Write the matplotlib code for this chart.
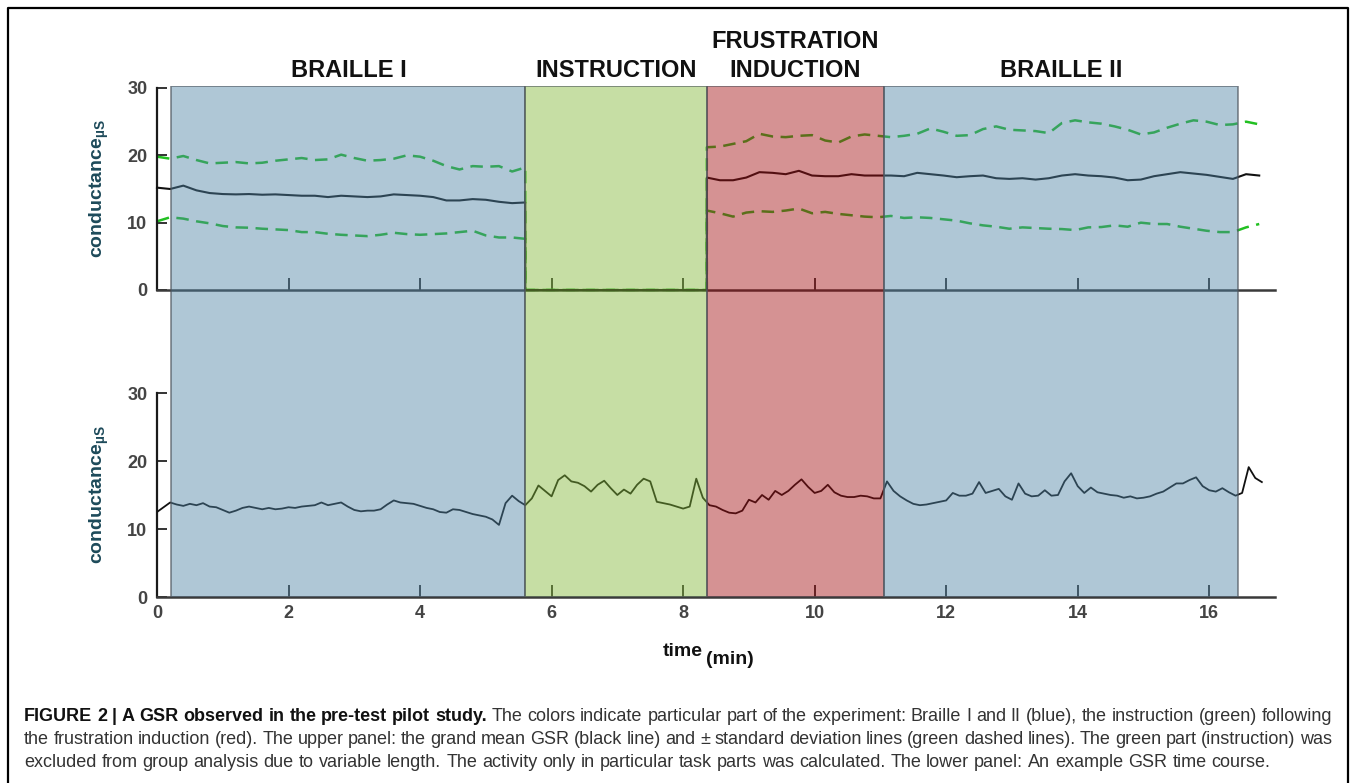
import matplotlib
matplotlib.use("Agg")
import matplotlib.pyplot as plt
import numpy as np
from matplotlib.lines import Line2D
from matplotlib.patches import Rectangle
from matplotlib.transforms import blended_transform_factory

plt.rcParams['mathtext.fontset'] = 'custom'
plt.rcParams['mathtext.rm'] = 'Liberation Sans:bold'
plt.rcParams['mathtext.bf'] = 'Liberation Sans:bold'
plt.rcParams['font.family'] = ['Liberation Sans', 'DejaVu Sans']

# ------------------------------------------------------------------ data
phase_names = ['BRAILLE I', 'INSTRUCTION', 'FRUSTRATION\nINDUCTION', 'BRAILLE II']
phase_bounds = [(0.22, 5.60), (5.60, 8.36), (8.36, 11.05), (11.05, 16.44)]
phase_colors = ['#4f83a4', '#82b737', '#a20d11', '#4f83a4']

x_ticks = [0, 2, 4, 6, 8, 10, 12, 14, 16]
x_tick_labels = ['0', '2', '4', '6', '8', '10', '12', '14', '16']
y_ticks = [0, 10, 20, 30]
y_tick_labels = ['0', '10', '20', '30']

# upper panel: grand mean and +/- SD, sampled every 0.2 min
seg1_start, seg2_start, top_step = 0.0, 8.36, 0.2
mean_seg1 = [15.2, 15.0, 15.5, 14.8, 14.4, 14.25, 14.2, 14.25, 14.15, 14.2, 14.1, 14.0, 14.0, 13.8,
             14.0, 13.9, 13.8, 13.9, 14.2, 14.1, 14.0, 13.8, 13.3, 13.3, 13.5, 13.4, 13.1, 12.9, 13.0]
upper_seg1 = [19.8, 19.5, 19.9, 19.3, 18.8, 18.9, 19.0, 18.8, 18.9, 19.2, 19.4, 19.6, 19.3, 19.4,
              20.1, 19.6, 19.2, 19.3, 19.5, 20.0, 19.8, 19.2, 18.4, 17.9, 18.4, 18.3, 18.4, 17.6, 18.2]
lower_seg1 = [10.2, 10.8, 10.6, 10.2, 9.9, 9.5, 9.3, 9.25, 9.1, 9.0, 8.9, 8.6, 8.6, 8.35,
              8.2, 8.1, 8.0, 8.2, 8.5, 8.3, 8.2, 8.3, 8.4, 8.6, 8.8, 8.1, 7.8, 7.8, 7.6]
mean_seg2 = [16.7, 16.3, 16.3, 16.7, 17.5, 17.4, 17.2, 17.7, 17.0, 16.9, 16.9, 17.2, 17.0, 17.0,
             17.0, 16.9, 17.4, 17.2, 17.0, 16.75, 16.9, 17.0, 16.6, 16.5, 16.6, 16.4, 16.6, 17.0,
             17.2, 17.0, 16.9, 16.7, 16.3, 16.4, 16.9, 17.2, 17.5, 17.3, 17.1, 16.8, 16.5, 17.2, 17.0]
upper_seg2 = [21.2, 21.3, 21.7, 22.1, 23.2, 22.8, 22.7, 22.9, 23.0, 22.2, 21.9, 22.8, 23.1, 22.9,
              22.7, 22.9, 23.2, 24.0, 23.5, 22.9, 23.0, 23.9, 24.3, 23.8, 23.7, 23.6, 23.3, 24.8,
              25.2, 24.9, 24.7, 24.3, 23.8, 23.1, 23.4, 24.1, 24.7, 25.2, 25.0, 24.5, 24.6, 25.0, 24.6]
lower_seg2 = [11.8, 11.4, 10.9, 11.5, 11.7, 11.6, 11.8, 12.1, 11.4, 11.6, 11.3, 11.1, 10.9, 10.8,
              11.0, 10.7, 10.8, 10.7, 10.5, 10.3, 9.9, 9.6, 9.4, 9.1, 9.3, 9.2, 9.1, 9.05,
              8.9, 9.3, 9.35, 9.6, 9.4, 10.0, 9.8, 9.8, 9.4, 9.1, 8.8, 8.6, 8.6, 9.3, 9.8]

# lower panel: example GSR, sampled every 0.1 min from t = 0
example_step = 0.1
example_gsr = [
    12.5, 13.2, 13.9, 13.6, 13.4, 13.7, 13.5, 13.8, 13.3, 13.2,
    12.8, 12.4, 12.7, 13.1, 13.3, 13.1, 12.9, 13.1, 12.9, 13.0,
    13.2, 13.1, 13.3, 13.4, 13.5, 13.9, 13.5, 13.7, 13.9, 13.3,
    12.8, 12.6, 12.7, 12.7, 12.9, 13.6, 14.2, 13.9, 13.8, 13.7,
    13.4, 13.1, 12.9, 12.5, 12.4, 12.9, 12.8, 12.5, 12.2, 12.0,
    11.8, 11.4, 10.6, 13.8, 14.9, 14.1, 13.5, 14.5, 16.4, 15.6,
    14.8, 17.2, 17.9, 17.0, 16.8, 16.3, 15.5, 16.5, 17.1, 16.0,
    15.0, 15.8, 15.2, 16.5, 17.4, 17.0, 14.0, 13.8, 13.6, 13.3,
    13.0, 13.3, 17.4, 14.6, 13.5, 13.3, 12.8, 12.4, 12.3, 12.7,
    14.3, 13.9, 15.0, 14.3, 15.6, 15.0, 15.6, 16.5, 17.3, 16.2,
    15.3, 15.6, 16.5, 15.4, 14.9, 14.7, 14.7, 14.9, 14.8, 14.5,
    14.5, 17.0, 15.6, 14.8, 14.2, 13.7, 13.5, 13.6, 13.8, 14.0,
    14.2, 15.3, 14.9, 14.9, 15.2, 16.9, 15.3, 15.6, 15.9, 14.8,
    14.3, 16.7, 15.2, 14.8, 14.9, 15.7, 14.9, 15.0, 17.0, 18.2,
    16.3, 15.3, 16.1, 15.4, 15.2, 15.0, 14.9, 14.6, 14.8, 14.5,
    14.6, 14.8, 15.2, 15.5, 16.1, 16.7, 16.7, 17.2, 17.6, 16.3,
    15.7, 15.5, 16.0, 15.4, 14.9, 15.3, 19.1, 17.5, 16.9]

ylabel_text = '$\\mathrm{conductance}_{\\mathrm{\u00b5S}}$'
caption_bold = "FIGURE 2 | A GSR observed in the pre-test pilot study."
caption_lines = [
    " The colors indicate particular part of the experiment: Braille I and II (blue), the instruction (green) following",
    "the frustration induction (red). The upper panel: the grand mean GSR (black line) and \u00b1 standard deviation lines (green dashed lines). The green part (instruction) was",
    "excluded from group analysis due to variable length. The activity only in particular task parts was calculated. The lower panel: An example GSR time course.",
]

# ------------------------------------------------------------------ build series
t_seg1 = seg1_start + top_step * np.arange(len(mean_seg1))
t_seg2 = seg2_start + top_step * np.arange(len(mean_seg2))
instr_t = list(phase_bounds[1])          # instruction part excluded -> 0
t_top = np.concatenate([t_seg1, instr_t, t_seg2])
zeros = [0.0, 0.0]
mean_top = np.concatenate([mean_seg1, zeros, mean_seg2])
upper_top = np.concatenate([upper_seg1, zeros, upper_seg2])
lower_top = np.concatenate([lower_seg1, zeros, lower_seg2])
t_example = example_step * np.arange(len(example_gsr))

# ------------------------------------------------------------------ layout
W, H, DPI = 1357, 783, 100
fig = plt.figure(figsize=(W / DPI, H / DPI), dpi=DPI)
fig.patch.set_facecolor('white')

def fx(px):
    return px / W

def fy(py):
    return 1 - py / H

X0, X1 = 157, 1275
XMAX = 17
top_y0, top_y30 = 290, 88
bot_y0, bot_y30 = 597, 393
span_top = 86

ax_top = fig.add_axes([fx(X0), fy(top_y0), (X1 - X0) / W, (top_y0 - top_y30) / H])
ax_bot = fig.add_axes([fx(X0), fy(bot_y0), (X1 - X0) / W, (bot_y0 - bot_y30) / H])
ov = fig.add_axes([fx(X0), fy(bot_y0), (X1 - X0) / W, (bot_y0 - span_top) / H], zorder=5)
ov.set_xlim(0, XMAX)
ov.set_ylim(0, 1)
ov.axis('off')

for ax in (ax_top, ax_bot):
    ax.set_xlim(0, XMAX)
    ax.set_ylim(0, 30)
    ax.patch.set_alpha(0)
    ax.spines['top'].set_visible(False)
    ax.spines['right'].set_visible(False)
    ax.spines['left'].set_linewidth(1.6)
    ax.spines['left'].set_color('#1a1a1a')
    ax.spines['bottom'].set_linewidth(1.8)
    ax.spines['bottom'].set_color('#3a3a3a')
    ax.spines['bottom'].set_zorder(3)
    ax.set_xticks(x_ticks)
    ax.set_xticklabels(x_tick_labels, fontweight='bold')
    ax.set_yticks(y_ticks)
    ax.set_yticklabels(y_tick_labels, fontweight='bold')
    ax.tick_params(axis='x', direction='in', length=9, width=1.4, color='#333333',
                   labelsize=13, labelcolor='#444444', pad=6)
    ax.tick_params(axis='y', direction='in', length=7, width=1.4, color='#333333',
                   labelsize=13, labelcolor='#444444', pad=7)
ax_top.tick_params(axis='x', labelbottom=False)

# upper panel lines
ax_top.plot(t_top, upper_top, color='#22c022', lw=1.8, dashes=(5, 3), clip_on=False, zorder=2)
ax_top.plot(t_top, lower_top, color='#22c022', lw=1.8, dashes=(5, 3), clip_on=False, zorder=2)
ax_top.plot(t_top, mean_top, color='#111111', lw=1.5, clip_on=False, zorder=4)

# lower panel line
ax_bot.plot(t_example, example_gsr, color='#111111', lw=1.3, zorder=4)

# phase overlays (semi-transparent, drawn on top like the original)
for (a, b), c in zip(phase_bounds, phase_colors):
    rgb = matplotlib.colors.to_rgb(c)
    ov.add_patch(Rectangle((a, 0), b - a, 1, facecolor=(*rgb, 0.45),
                           edgecolor=(0.30, 0.33, 0.36, 0.65), lw=1.3))

# phase titles
hdr_tr = blended_transform_factory(ov.transData, fig.transFigure)
for (a, b), name in zip(phase_bounds, phase_names):
    lines = name.split('\n')
    base = 77
    for i, ln in enumerate(reversed(lines)):
        fig.text((a + b) / 2, fy(base - 29 * i), ln, transform=hdr_tr, ha='center',
                 va='baseline', fontsize=17, fontweight='bold', color='#111111')

# y labels
for (y0, y30) in ((top_y0, top_y30), (bot_y0, bot_y30)):
    fig.text(fx(99), fy((y0 + y30) / 2), ylabel_text,
             rotation=90, ha='center', va='center', fontsize=14, color='#1d4a5a')

# x label
fig.text(fx(663), fy(652), 'time', ha='left', va='center', fontsize=14,
         fontweight='bold', color='#111111')
fig.text(fx(706), fy(660), '(min)', ha='left', va='center', fontsize=14,
         fontweight='bold', color='#111111')

# frame
fig.add_artist(Line2D([fx(8), fx(8), fx(1348), fx(1348)], [fy(800), fy(8), fy(8), fy(800)],
                      transform=fig.transFigure, color='black', lw=1.6))

# ------------------------------------------------------------------ caption
renderer = fig.canvas.get_renderer()
CAP_FAMILY = ['Liberation Sans Narrow', 'Liberation Sans']

def text_w(s, fs, weight):
    t = fig.text(0, 0, s, fontsize=fs, fontweight=weight, family=CAP_FAMILY)
    w = t.get_window_extent(renderer).width
    t.remove()
    return w

def tokens_for(line_idx):
    toks = []
    if line_idx == 0:
        toks += [(w, 'bold') for w in caption_bold.split()]
    toks += [(w, 'normal') for w in caption_lines[line_idx].split()]
    return toks

def natural_width(toks, fs):
    sp = text_w('a a', fs, 'normal') - text_w('aa', fs, 'normal')
    return sum(text_w(w, fs, wt) for w, wt in toks) + sp * (len(toks) - 1)

cap_left = 24
fs_cap = 13.0
w3 = natural_width(tokens_for(2), fs_cap)
fs_cap = fs_cap * (1270 - cap_left) / w3

baselines = [721, 744, 767]
justify = [1332, 1332, None]
space_w = text_w('a a', fs_cap, 'normal') - text_w('aa', fs_cap, 'normal')
for i in range(3):
    toks = tokens_for(i)
    widths = [text_w(w, fs_cap, wt) for w, wt in toks]
    if justify[i] is not None:
        gap = (justify[i] - cap_left - sum(widths)) / (len(toks) - 1)
    else:
        gap = space_w
    x = cap_left
    for (w, wt), ww in zip(toks, widths):
        fig.text(fx(x), fy(baselines[i]), w, fontsize=fs_cap, fontweight=wt, family=CAP_FAMILY,
                 va='baseline', ha='left', color='#111111' if wt == 'bold' else '#333333')
        x += ww + gap

fig.savefig('out.png', dpi=DPI)
